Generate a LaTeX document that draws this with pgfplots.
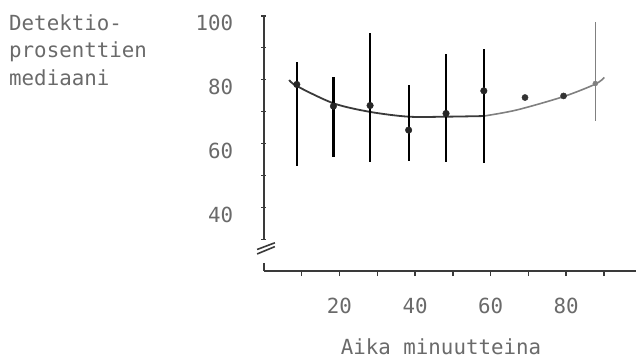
\documentclass[border=0pt]{standalone}
\usepackage{pgfplots}
\pgfplotsset{compat=1.18}
\usepackage{fontspec}
\newfontfamily\plotfont{DejaVu Sans Mono}
\definecolor{txt}{HTML}{6A6A6A}
\definecolor{ax}{HTML}{3A3A3A}
\newcommand\lbl{\fontsize{20.8bp}{27bp}\selectfont\plotfont}
\begin{document}
\begin{tikzpicture}[x=1bp,y=1bp]
\path[use as bounding box] (0,0) rectangle (636,359);
\begin{axis}[
  scale only axis, width=372.2bp, height=255.4bp,
  at={(263.9bp,87.8bp)}, anchor=south west,
  xmin=0, xmax=98.5, ymin=20, ymax=100,
  axis x line*=bottom, axis y line*=left,
  y axis line style={draw=none},
  x axis line style={ax, line width=1.8bp, -},
  xtick={20,40,60,80}, minor xtick={10,30,50,70,90},
  ytick={40,60,80,100}, minor ytick={30,50,70,90},
  xtick align=outside, ytick align=center,
  major tick length=5bp, minor tick length=5bp,
  every tick/.style={ax, line width=1.5bp},
  /pgf/number format/assume math mode=true,
  ticklabel style={font=\lbl, text=txt, inner sep=0pt},
  yticklabel style={anchor=east, xshift=-28bp, yshift=-7.5bp},
  xticklabel style={anchor=north, yshift=-22bp},
  clip=false,
]
% curve (dark part, then lighter part)
\addplot[smooth, ax, line width=1.8bp] coordinates {
  (6.7,79.9) (8.7,78.0) (18.4,72.6) (28.1,69.9) (38.3,68.4) (48.2,68.4) (58.2,68.6)
};
\addplot[smooth, gray, line width=1.6bp] coordinates {
  (58.2,68.6) (66.9,70.5) (79.3,74.7) (87.7,78.6) (90.1,80.7)
};
% medians with ranges
\addplot[only marks, mark=*, mark size=3.3bp, black!85,
  error bars/.cd, y dir=both, y explicit, error mark=none,
  error bar style={line width=2.2bp, black}] coordinates {
  (8.7,78.5)  += (0,6.9)  -= (0,25.5)
  (18.4,71.7) += (0,9.2)  -= (0,15.9)
  (28.1,71.9) += (0,22.6) -= (0,17.8)
  (38.3,64.2) += (0,14.0) -= (0,9.6)
  (48.2,69.4) += (0,18.5) -= (0,15.3)
  (58.2,76.5) += (0,13.1) -= (0,22.7)
};
\addplot[only marks, mark=*, mark size=3.1bp, black!80] coordinates {
  (69.1,74.4) (79.3,74.9)
};
\addplot[only marks, mark=*, mark size=2.5bp, gray,
  error bars/.cd, y dir=both, y explicit, error mark=none,
  error bar style={line width=1.6bp, gray}] coordinates {
  (87.7,78.8) += (0,19.3) -= (0,11.7)
};
% broken y axis
\draw[ax, line width=1.8bp] (axis cs:0,100.3) -- (axis cs:0,29.8);
\draw[ax, line width=1.6bp] (axis cs:-1.8,25.4) -- (axis cs:2.9,27.7);
\draw[ax, line width=1.6bp] (axis cs:-1.8,26.8) -- (axis cs:2.9,28.9);
\draw[ax, line width=1.8bp] (axis cs:0,22.6) -- (axis cs:0,20);
\end{axis}
\node[anchor=base west, inner sep=0pt, text=txt, font=\lbl] at (9,329) {Detektio-};
\node[anchor=base west, inner sep=0pt, text=txt, font=\lbl] at (9,301.5) {prosenttien};
\node[anchor=base west, inner sep=0pt, text=txt, font=\lbl] at (9,274) {mediaani};
\node[anchor=base, inner sep=0pt, text=txt, font=\lbl] at (441,4.5) {Aika minuutteina};
\end{tikzpicture}
\end{document}
